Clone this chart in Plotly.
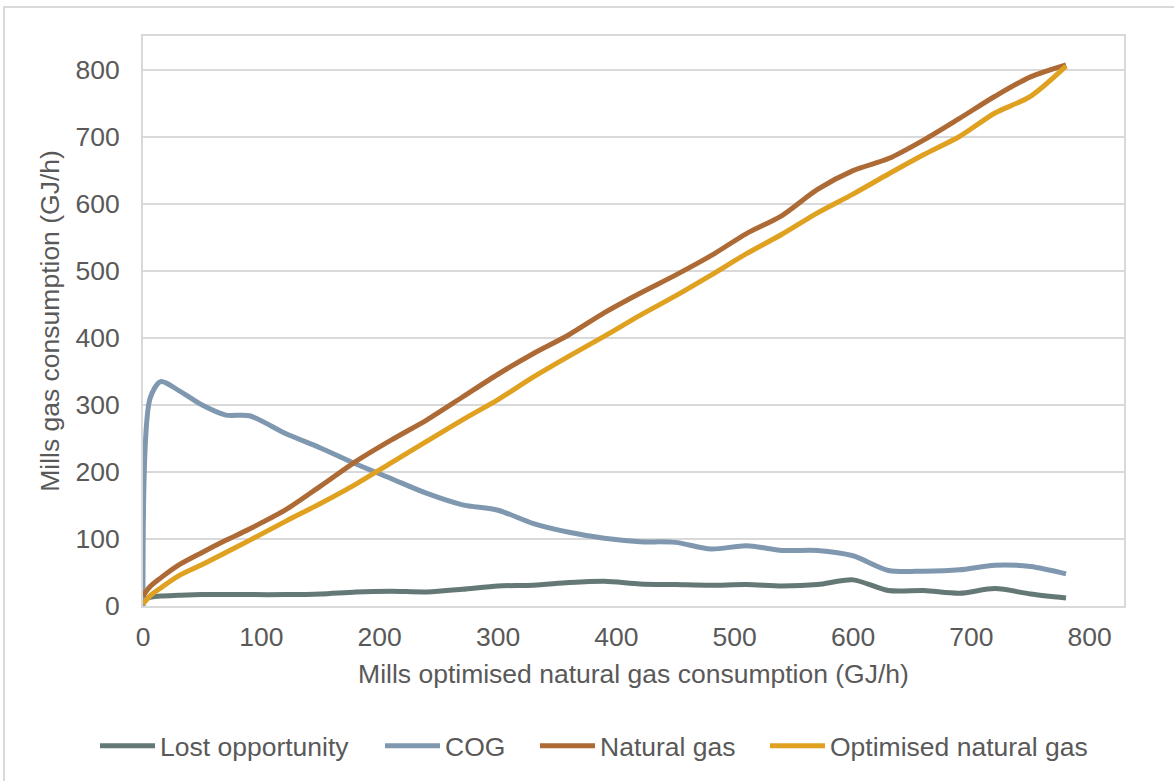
import plotly.graph_objects as go

# Mills optimised natural gas consumption (GJ/h) - shared x grid
x_gj = [0, 6, 15, 30, 50, 70, 90, 120, 150, 180, 210, 240, 270, 300, 330,
        360, 390, 420, 450, 480, 510, 540, 570, 600, 630, 660, 690, 720, 750, 780]

lost_opportunity = [10, 13, 15, 16, 17, 17, 17, 17, 18, 21, 22, 21, 25, 30, 31,
                    35, 37, 33, 32, 31, 32, 30, 32, 39, 23, 23, 19, 26, 18, 12]
cog = [0, 310, 335, 322, 300, 285, 284, 258, 236, 212, 190, 168, 151, 143, 123,
       110, 101, 96, 95, 85, 90, 83, 83, 75, 53, 52, 54, 61, 59, 48]
natural_gas = [15, 29, 42, 61, 80, 98, 115, 143, 179, 216, 248, 278, 312, 346, 377,
               405, 438, 467, 494, 523, 556, 583, 622, 650, 668, 696, 728, 761, 790, 808]
optimised_gas = [3, 15, 27, 45, 62, 80, 98, 126, 153, 182, 214, 246, 278, 308, 342,
                 373, 403, 434, 463, 494, 526, 555, 587, 615, 645, 674, 701, 736, 761, 806]

series = [
    ("Lost opportunity", lost_opportunity, "#647875"),
    ("COG", cog, "#7f98b0"),
    ("Natural gas", natural_gas, "#ad6a35"),
    ("Optimised natural gas", optimised_gas, "#dfa11f"),
]

TXT = "#595959"
GRID = "#d9d9d9"
FONT = "Liberation Sans, Arial, sans-serif"
FS = 26.5
W, H = 1174, 781

# one legend per series, left edge in px (Excel-like spacing)
legend_px = [95, 380, 535, 765]

fig = go.Figure()
for i, (name, ys, col) in enumerate(series):
    lg = "legend" if i == 0 else f"legend{i + 1}"
    fig.add_trace(go.Scatter(
        x=x_gj, y=ys, name=name, mode="lines",
        line=dict(color=col, width=5, shape="spline", smoothing=0.8),
        legend=lg, showlegend=True,
    ))

legend_common = dict(
    orientation="h", xref="container", yref="container",
    xanchor="left", yanchor="middle", y=(H - 746) / H,
    font=dict(size=FS, color=TXT, family=FONT), itemwidth=55,
    bgcolor="rgba(0,0,0,0)", borderwidth=0,
)
legends = {}
for i, px in enumerate(legend_px):
    key = "legend" if i == 0 else f"legend{i + 1}"
    legends[key] = dict(x=px / W, **legend_common)

fig.update_layout(
    width=W, height=H, showlegend=True,
    margin=dict(l=143, r=50, t=36, b=175),
    paper_bgcolor="white", plot_bgcolor="white",
    font=dict(family=FONT, color=TXT, size=FS),
    **legends,
    xaxis=dict(
        range=[0, 829], tick0=0, dtick=100, showgrid=False, zeroline=False,
        showline=True, mirror=True, linecolor=GRID, linewidth=2,
        ticks="", ticklabelstandoff=6, automargin=False,
        tickfont=dict(size=FS, color=TXT),
        title=dict(text="Mills optimised natural gas consumption (GJ/h)",
                   font=dict(size=FS, color=TXT), standoff=14),
    ),
    yaxis=dict(
        range=[0, 851], tick0=0, dtick=100, showgrid=True, gridcolor=GRID, gridwidth=2,
        zeroline=False, showline=True, mirror=True, linecolor=GRID, linewidth=2,
        ticks="", ticklabelstandoff=16, automargin=False,
        tickfont=dict(size=FS, color=TXT),
        title=dict(text="Mills gas consumption (GJ/h)",
                   font=dict(size=FS, color=TXT), standoff=8),
    ),
    # outer chart-area border (cropped at right and bottom in the original)
    shapes=[dict(
        type="rect", xref="paper", yref="paper",
        x0=-0.1417, x1=1.06, y0=-0.33, y1=1.0509,
        line=dict(color=GRID, width=2), layer="below",
    )],
)

fig.write_html(
    "out.html",
    config={"displayModeBar": False},
    post_script="document.body.style.margin='0';",
)
